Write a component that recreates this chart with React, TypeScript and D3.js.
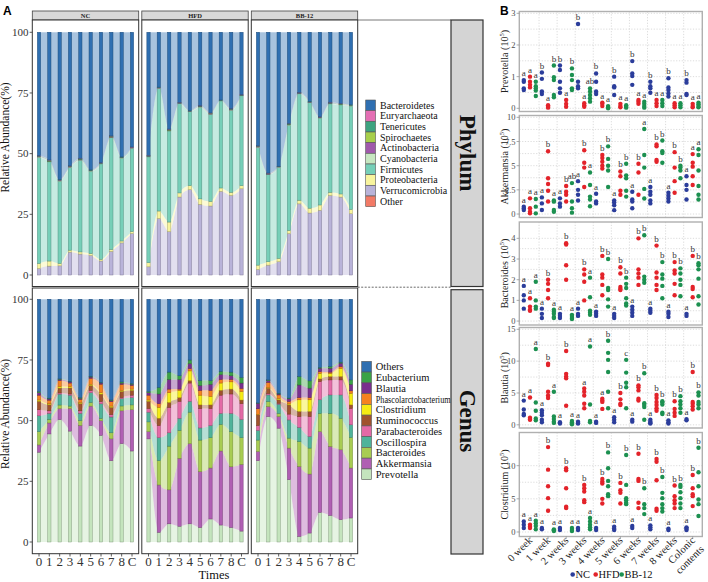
import React from 'react';
import * as d3 from 'd3';

// ---------------- Panel A data ----------------
const times = ['0', '1', '2', '3', '4', '5', '6', '7', '8', 'C'];
const facets = ['NC', 'HFD', 'BB-12'];

const phylumNames = ['Bacteroidetes', 'Euryarchaeota', 'Tenericutes', 'Spirochaetes', 'Actinobacteria', 'Cyanobacteria', 'Firmicutes', 'Proteobacteria', 'Verrucomicrobia', 'Other'];
const phylumColors = ['#2f6fb1', '#e46fb4', '#3ea380', '#a7cf4b', '#a05aab', '#c7e7c1', '#76cfb8', '#f8f49e', '#b9b3d9', '#f27a66'];

const phylumNC = [
  [51.2, 53.0, 61.1, 55.4, 52.3, 57.0, 54.0, 43.0, 51.6, 47.5],
  [0.1, 0.1, 0.0, 0.1, 0.1, 0.0, 0.1, 0.1, 0.0, 0.1],
  [0.3, 0.4, 0.2, 0.3, 0.4, 0.3, 0.2, 0.3, 0.3, 0.2],
  [0.0, 0.1, 0.0, 0.0, 0.1, 0.0, 0.0, 0.1, 0.0, 0.0],
  [0.1, 0.1, 0.2, 0.1, 0.1, 0.1, 0.1, 0.1, 0.1, 0.1],
  [0.2, 0.1, 0.3, 0.2, 0.1, 0.2, 0.1, 0.2, 0.2, 0.1],
  [44.0, 41.2, 34.1, 34.3, 38.1, 34.1, 39.5, 46.4, 34.3, 34.5],
  [2.1, 2.1, 1.0, 0.8, 0.9, 0.8, 0.7, 0.8, 0.8, 0.8],
  [2.7, 3.7, 3.8, 9.5, 8.7, 8.1, 5.8, 9.8, 13.3, 17.2],
  [0, 0, 0, 0, 0, 0, 0, 0, 0, 0],
];
const phylumHFD = [
  [51.0, 22.7, 40.2, 29.0, 32.4, 30.4, 33.4, 28.0, 31.7, 25.8],
  [0.1, 0.0, 0.1, 0.1, 0.0, 0.1, 0.1, 0.0, 0.1, 0.1],
  [0.3, 0.2, 0.3, 0.2, 0.2, 0.3, 0.2, 0.2, 0.3, 0.2],
  [0.0, 0.0, 0.1, 0.0, 0.0, 0.0, 0.1, 0.0, 0.0, 0.0],
  [0.1, 0.2, 0.1, 0.1, 0.1, 0.1, 0.1, 0.1, 0.1, 0.1],
  [0.2, 0.1, 0.2, 0.1, 0.1, 0.2, 0.1, 0.1, 0.2, 0.1],
  [43.9, 50.8, 37.8, 37.0, 30.6, 38.0, 36.1, 36.0, 34.0, 37.2],
  [1.7, 3.1, 4.0, 1.7, 1.7, 2.3, 1.9, 1.4, 1.3, 1.3],
  [3.4, 23.4, 18.0, 32.3, 35.3, 29.3, 28.6, 34.6, 33.0, 35.7],
  [0, 0, 0, 0, 0, 0, 0, 0, 0, 0],
];
const phylumBB = [
  [47.1, 58.4, 55.4, 37.8, 24.9, 28.6, 35.0, 29.0, 29.5, 30.0],
  [0.1, 0.1, 0.0, 0.1, 0.1, 0.0, 0.1, 0.1, 0.1, 0.0],
  [0.3, 0.3, 0.2, 0.3, 0.2, 0.3, 0.2, 0.3, 0.2, 0.3],
  [0.0, 0.0, 0.0, 0.1, 0.0, 0.0, 0.0, 0.0, 0.1, 0.0],
  [0.1, 0.1, 0.1, 0.1, 0.2, 0.1, 0.1, 0.1, 0.1, 0.1],
  [0.2, 0.2, 0.1, 0.2, 0.1, 0.2, 0.1, 0.2, 0.1, 0.2],
  [48.8, 36.1, 37.7, 43.7, 44.1, 43.7, 36.0, 36.7, 36.9, 42.8],
  [1.8, 1.4, 1.4, 1.3, 1.5, 2.0, 2.2, 1.3, 1.3, 1.8],
  [2.3, 4.1, 5.5, 17.2, 29.5, 25.7, 26.8, 33.0, 32.3, 25.4],
  [0, 0, 0, 0, 0, 0, 0, 0, 0, 0],
];

const genusNames = ['Others', 'Eubacterium', 'Blautia', 'Phascolarctobacterium', 'Clostridium', 'Ruminococcus', 'Parabacteroides', 'Oscillospira', 'Bacteroides', 'Akkermansia', 'Prevotella'];
const genusColors = ['#2f6fb1', '#3aa346', '#7a2f8e', '#f58220', '#f6eb14', '#a0522d', '#e36aa6', '#4fb39a', '#a8cc52', '#b05fb3', '#c4e4bd'];

const genusNC = [
  [38.0, 40.7, 32.8, 33.8, 40.5, 31.7, 34.3, 41.5, 34.0, 34.7],
  [0.5, 0.3, 0.2, 0.2, 0.3, 0.3, 0.2, 0.3, 0.5, 0.3],
  [1.0, 0.5, 0.5, 0.5, 0.4, 0.5, 0.5, 0.4, 0.5, 0.5],
  [2.0, 1.5, 2.5, 1.5, 1.3, 2.5, 3.5, 1.8, 2.5, 1.5],
  [0.5, 0.4, 0.6, 0.5, 0.4, 0.5, 0.6, 0.5, 0.4, 0.5],
  [3.5, 2.5, 2.0, 2.5, 3.0, 2.0, 3.0, 3.0, 2.5, 2.0],
  [2.5, 1.0, 0.5, 0.5, 1.0, 1.0, 1.0, 1.0, 0.5, 1.0],
  [6.5, 2.5, 4.5, 4.5, 3.0, 4.0, 6.0, 6.5, 3.0, 3.0],
  [5.5, 1.5, 1.5, 1.0, 2.0, 1.5, 1.0, 2.5, 2.0, 2.0],
  [3.0, 4.5, 4.5, 9.3, 8.5, 8.0, 6.0, 9.0, 13.5, 17.0],
  [37.0, 44.5, 50.5, 45.7, 39.5, 48.0, 44.0, 33.5, 40.5, 37.5],
];
const genusHFD = [
  [38.0, 36.3, 30.0, 31.5, 25.0, 33.5, 33.5, 29.7, 30.0, 32.2],
  [0.5, 2.7, 3.0, 1.5, 1.5, 2.0, 1.5, 1.3, 1.5, 2.3],
  [1.0, 4.0, 4.0, 4.0, 2.0, 2.0, 2.5, 2.0, 1.5, 2.2],
  [2.0, 1.5, 1.5, 0.5, 1.0, 2.0, 2.5, 1.5, 1.0, 1.3],
  [0.5, 4.5, 4.0, 3.0, 4.0, 4.0, 3.5, 3.0, 3.0, 3.5],
  [3.0, 3.0, 2.0, 1.5, 1.0, 1.5, 1.5, 2.0, 2.0, 1.5],
  [1.5, 5.0, 10.5, 7.0, 7.5, 8.0, 7.0, 7.5, 8.0, 6.5],
  [4.0, 9.5, 5.5, 5.0, 4.5, 5.0, 5.0, 4.5, 7.5, 7.5],
  [4.0, 10.0, 18.0, 11.5, 13.0, 13.0, 12.5, 11.0, 14.5, 11.0],
  [3.0, 19.5, 14.0, 28.0, 33.0, 23.0, 21.0, 30.5, 25.0, 27.5],
  [42.5, 4.0, 7.5, 6.5, 7.5, 6.0, 9.5, 7.0, 6.0, 4.5],
];
const genusBB = [
  [42.7, 33.2, 38.7, 40.7, 31.8, 33.6, 28.1, 27.7, 25.9, 33.2],
  [0.1, 0.3, 0.3, 0.3, 3.5, 3.0, 0.3, 0.7, 0.4, 1.8],
  [2.3, 0.7, 0.4, 1.1, 5.2, 3.9, 1.4, 1.6, 1.4, 2.7],
  [2.3, 2.2, 1.4, 1.0, 0.9, 0.9, 0.7, 0.5, 0.7, 1.0],
  [0.2, 0.2, 0.6, 0.4, 4.8, 4.8, 2.3, 1.3, 3.4, 4.8],
  [4.4, 2.2, 1.4, 3.8, 2.1, 2.1, 1.1, 1.4, 1.4, 1.4],
  [2.0, 0.6, 0.4, 2.4, 4.5, 8.2, 7.5, 6.2, 6.2, 6.8],
  [4.0, 2.7, 3.8, 7.5, 5.8, 4.8, 5.6, 7.6, 9.6, 5.2],
  [4.7, 2.1, 1.3, 4.1, 10.3, 10.7, 7.5, 13.6, 13.0, 12.6],
  [3.8, 4.1, 4.8, 13.0, 28.8, 24.3, 33.3, 28.4, 28.8, 20.6],
  [33.5, 51.7, 46.9, 25.7, 2.3, 3.7, 12.2, 11.0, 9.2, 9.9],
];

const abundanceTicks = [0, 25, 50, 75, 100];

// ---------------- Panel B data ----------------
const weekLabels = ['0 week', '1 week', '2 weeks', '3 weeks', '4 weeks', '5 weeks', '6 weeks', '7 weeks', '8 weeks', 'Colonic contents'];
const treatments = ['NC', 'HFD', 'BB-12'];
const treatColors = ['#2b3d9b', '#e3232a', '#1c9050'];

const prevNC = [[0.89, 0.84, 0.63, 0.58], [1.13, 0.93, 0.53, 0.45], [1.35, 1.21, 0.84, 0.63, 0.49], [2.66, 0.84, 0.7, 0.63], [1.1, 0.84, 0.53, 0.45], [1.0, 0.7, 0.66, 0.42], [1.49, 1.1, 1.02, 0.74], [0.84, 0.7, 0.63, 0.49], [0.95, 0.66, 0.58, 0.47, 0.37], [0.89, 0.81, 0.45, 0.42]];
const prevHFD = [[1.0, 0.84, 0.74, 0.66], [0.1, 0.05, 0.02], [0.26, 0.14, 0.05], [0.16, 0.1, 0.05], [0.18, 0.14, 0.07], [0.14, 0.07, 0.03], [0.26, 0.21, 0.14], [0.26, 0.16, 0.07], [0.16, 0.1, 0.03], [0.14, 0.07, 0.03]];
const prevBB = [[0.84, 0.7, 0.63, 0.56, 0.39], [1.35, 0.98, 0.89, 0.42, 0.35], [1.26, 1.05, 0.89, 0.63, 0.58], [0.63, 0.53, 0.42, 0.32, 0.21], [0.07, 0.03, 0.0], [0.1, 0.05, 0.02], [0.21, 0.14, 0.07, 0.02], [0.26, 0.16, 0.07], [0.16, 0.1, 0.03], [0.18, 0.13, 0.07, 0.03]];
const prevLetters = [
  ['a', 'b', 'b', 'b', 'b', 'b', 'b', 'b', 'b', 'b'],
  ['a', 'a', 'a', 'a', 'a', 'a', 'a', 'a', 'a', 'a'],
  ['a', 'b', 'b', 'ab', 'a', 'a', 'a', 'a', 'a', 'a'],
];
const prevTicks = [0, 1, 2, 3];

const akkNC = [[0.76, 0.59, 0.41], [1.72, 1.1, 0.41], [1.62, 1.1, 0.76], [3.4, 2.5, 2.0, 1.4], [2.1, 1.3, 1.1], [1.4, 1.2, 0.9, 0.4], [2.3, 1.5, 1.3, 0.6], [2.8, 2.3, 2.0, 1.4, 1.1], [2.2, 1.9, 1.6, 1.3], [3.9, 3.0, 2.5, 1.5]];
const akkHFD = [[1.62, 0.59, 0.24, 0.07], [6.5, 3.7, 3.1, 2.4, 1.3], [2.9, 2.3, 2.0, 1.3], [6.6, 5.3, 4.8, 2.8], [6.1, 5.8, 5.4, 5.0, 4.7], [4.4, 3.9, 2.4, 2.0], [5.2, 4.3, 2.0], [7.2, 7.0, 5.6, 5.4], [6.4, 4.8, 3.4, 2.2], [6.2, 5.3, 4.9, 3.9, 3.0]];
const akkBB = [[1.55, 0.76, 0.07], [1.4, 1.28, 0.41, 0.24], [3.2, 1.3, 0.6, 0.14], [4.3, 3.0, 1.8, 1.5, 0.8], [7.0, 5.7, 5.0, 4.5, 2.8], [5.2, 4.0, 3.7, 2.4, 1.8], [8.8, 6.1, 4.8, 2.6, 1.6], [7.6, 6.5, 6.3, 5.3], [5.0, 4.8, 4.5, 3.7], [6.7, 6.1, 4.5, 2.9, 2.0, 1.5]];
const akkLetters = [
  ['a', 'a', 'a', 'a', 'a', 'a', 'a', 'a', 'a', 'a'],
  ['a', 'b', 'b', 'b', 'b', 'b', 'b', 'b', 'b', 'a'],
  ['a', 'a', 'ab', 'a', 'b', 'b', 'a', 'b', 'b', 'a'],
];
const akkTicks = [0, 2.5, 5, 7.5, 10];

const bacNC = [[1.7, 1.25, 1.0, 0.6], [0.6, 0.35, 0.15], [0.35, 0.25, 0.15], [0.6, 0.35, 0.25], [0.45, 0.35, 0.25], [0.35, 0.25, 0.15], [0.7, 0.55, 0.4, 0.25], [0.6, 0.5, 0.4], [0.45, 0.35, 0.2], [0.35, 0.25]];
const bacHFD = [[1.1, 0.7, 0.55, 0.5], [2.0, 1.8, 1.5, 1.1], [3.76, 3.7, 2.7, 2.0], [2.5, 2.25, 1.9, 1.0], [3.15, 2.25, 2.1, 1.75, 1.25], [2.6, 2.3, 1.65, 1.55, 1.5], [4.0, 2.5, 2.3, 2.1, 1.75], [3.65, 2.35, 2.1, 1.75, 1.5], [2.85, 2.45, 2.3, 1.8, 1.25], [3.15, 1.65, 1.55, 1.15]];
const bacBB = [[1.9, 1.0, 0.7, 0.6], [0.55, 0.45, 0.35, 0.2, 0.15], [0.3, 0.25, 0.15, 0.1], [2.1, 1.15, 0.5, 0.4, 0.3], [3.0, 1.6, 1.5, 1.05, 0.7], [2.1, 1.8, 1.6, 1.1, 0.85, 0.75], [4.15, 2.15, 2.0, 1.85], [2.85, 2.25, 2.05, 1.7, 1.1], [2.55, 2.3, 2.0, 1.75, 1.2], [2.8, 2.7, 2.5, 2.05, 1.2, 0.8]];
const bacLetters = [
  ['a', 'a', 'a', 'a', 'a', 'a', 'a', 'a', 'a', 'a'],
  ['a', 'b', 'b', 'b', 'b', 'b', 'b', 'b', 'b', 'b'],
  ['a', 'a', 'a', 'a', 'b', 'b', 'b', 'b', 'b', 'b'],
];
const bacTicks = [0, 1, 2, 3, 4];

const blaNC = [[3.8, 2.4, 1.7, 1.5], [2.3, 1.9, 1.5, 0.8, 0.4], [0.4, 0.2], [0.5, 0.3, 0.2], [0.5, 0.3], [1.2, 0.8, 0.4], [0.8, 0.5], [0.8, 0.5, 0.3, 0.2], [0.7, 0.4, 0.2], [0.9, 0.7]];
const blaHFD = [[4.3, 1.1, 0.9, 0.8], [9.6, 9.4, 5.2, 4.6, 4.2], [11.6, 8.0, 7.6, 7.3, 3.0], [5.7, 5.2, 4.6, 3.3, 2.6], [4.1, 3.8, 3.6, 2.5], [5.0, 4.0, 3.3, 3.1], [6.2, 5.9, 5.4, 4.1, 3.8], [4.7, 4.2, 3.6, 3.1, 2.6, 2.2], [3.7, 2.5, 1.9, 1.4], [8.3, 3.6, 3.3, 2.9, 2.4]];
const blaBB = [[11.9, 3.5, 2.2, 1.0, 0.7], [5.2, 1.3, 0.9, 0.5, 0.3], [0.6, 0.4, 0.2, 0.1], [12.3, 3.2, 0.6, 0.4], [13.2, 11.3, 10.2, 8.3, 5.2, 2.6], [10.2, 8.2, 6.6, 5.9, 2.6], [8.1, 3.4, 3.1, 2.8, 0.8], [3.7, 3.5, 3.2, 1.9, 1.7], [4.5, 3.7, 3.2, 2.6, 1.9], [5.1, 4.6, 3.6, 3.2, 2.6]];
const blaLetters = [
  ['a', 'a', 'a', 'a', 'a', 'a', 'a', 'a', 'a', 'a'],
  ['a', 'b', 'b', 'a', 'a', 'b', 'b', 'b', 'b', 'b'],
  ['a', 'a', 'a', 'a', 'b', 'c', 'b', 'b', 'b', 'b'],
];
const blaTicks = [0, 5, 10, 15];

const cloNC = [[1.6, 1.1, 0.6], [0.6, 0.4], [0.6, 0.3], [0.6, 0.3], [0.6, 0.3], [0.8, 0.5, 0.3], [0.9, 0.6], [1.0, 0.7, 0.4], [0.5, 0.3], [0.7, 0.5, 0.3]];
const cloHFD = [[1.1, 0.8, 0.6], [12.8, 9.4, 6.9, 5.1, 3.2], [9.6, 9.3, 6.6, 3.8, 3.6], [7.1, 6.6, 6.1, 4.8, 4.5], [8.0, 7.6, 7.3, 5.0, 4.3], [7.4, 6.3, 5.9, 4.3], [11.8, 8.0, 7.7, 4.4, 3.6], [11.0, 10.6, 7.8, 3.5, 3.2], [7.0, 5.4, 4.8, 4.3, 3.6], [8.6, 6.6, 5.7, 5.4, 3.9]];
const cloBB = [[1.7, 1.3, 0.9, 0.4], [0.4, 0.25, 0.15], [0.6, 0.3, 0.15], [2.1, 1.6, 1.1, 0.7, 0.4], [12.0, 9.6, 7.7, 6.9, 5.7, 5.4], [11.6, 7.1, 5.1, 4.8, 4.4, 4.2], [6.6, 4.2, 3.6, 2.7], [8.3, 5.9, 5.1, 4.2, 3.6, 3.1], [7.1, 6.8, 6.0, 5.1, 4.3, 3.6], [12.7, 9.0, 6.9, 4.9, 4.2, 2.4]];
const cloLetters = [
  ['a', 'a', 'a', 'a', 'a', 'a', 'a', 'a', 'a', 'a'],
  ['a', 'b', 'b', 'b', 'b', 'b', 'b', 'b', 'b', 'b'],
  ['a', 'a', 'a', 'a', 'b', 'b', 'b', 'b', 'b', 'b'],
];
const cloTicks = [0, 5, 10];

// ---------------- layout ----------------
const SERIF = '"Liberation Serif", "Times New Roman", serif';
const SANS = '"Liberation Sans", Arial, sans-serif';
const facetX: [number, number][] = [[32.3, 138.7], [141.8, 248.2], [251.3, 357.7]];
const rowsA = [
  { top: 20, bottom: 286.5, yZero: 275, yHundred: 32.3, titleY: 137.5 },
  { top: 288, bottom: 553.7, yZero: 542, yHundred: 299.3, titleY: 414 },
];

function StackedPanel({ matrix, names, colors, x0, x1, yZero, yHundred }: any) {
  const xs = d3.scalePoint<string>().domain(times).range([x0 + 6.7, x1 - 6.7]);
  const ys = d3.scaleLinear().domain([0, 1]).range([yZero, yHundred]);
  const keys = names.slice().reverse();
  const rows = times.map((t, i) => {
    const o: any = { t };
    names.forEach((n: string, k: number) => { o[n] = matrix[k][i]; });
    return o;
  });
  const series = d3.stack<any>().keys(keys).offset(d3.stackOffsetExpand)(rows);
  const area = d3.area<any>()
    .x((d) => xs(d.data.t) as number)
    .y0((d) => ys(d[0]))
    .y1((d) => ys(d[1]))
    .curve(d3.curveMonotoneX);
  const bw = 3.3;
  return (
    <g>
      {series.map((s) => {
        const c = colors[names.indexOf(s.key)];
        return <path key={'a' + s.key} d={area(s) || ''} fill={c} fillOpacity={0.42} stroke="none" />;
      })}
      {series.map((s) => {
        const c = colors[names.indexOf(s.key)];
        const stroke = (d3.color(c) as any).darker(1).formatHex();
        return s.map((d, i) => {
          const h = ys(d[0]) - ys(d[1]);
          if (h <= 0.05) return null;
          return (
            <rect key={s.key + i} x={(xs(d.data.t) as number) - bw / 2} y={ys(d[1])} width={bw} height={h}
              fill={c} stroke={stroke} strokeWidth={0.5} />
          );
        });
      })}
    </g>
  );
}

function PanelA() {
  const yAxis = (row: any, ri: number) => {
    const ys = d3.scaleLinear().domain([0, 100]).range([row.yZero, row.yHundred]);
    return (
      <g key={'ya' + ri}>
        {abundanceTicks.map((t) => (
          <g key={t}>
            <line x1={29.6} x2={32.3} y1={ys(t)} y2={ys(t)} stroke="#333" strokeWidth={0.8} />
            <text x={28.5} y={ys(t) + 3.8} textAnchor="end" fontSize={11} fontFamily={SERIF} fill="#333">{t}</text>
          </g>
        ))}
        <text transform={`translate(9,${row.titleY}) rotate(-90)`} textAnchor="middle" fontSize={11.5} fontFamily={SERIF} fill="#111">Relative Abundance(%)</text>
      </g>
    );
  };
  const matsP = [phylumNC, phylumHFD, phylumBB];
  const matsG = [genusNC, genusHFD, genusBB];
  return (
    <g>
      <text x={3} y={15} fontFamily={SANS} fontWeight="bold" fontSize={12} fill="#000">A</text>
      {facets.map((f, fi) => {
        const [x0, x1] = facetX[fi];
        return (
          <g key={f}>
            <rect x={x0} y={11} width={x1 - x0} height={9} fill="#d9d9d9" stroke="#444" strokeWidth={0.8} />
            <text x={(x0 + x1) / 2} y={18} textAnchor="middle" fontSize={6.5} fontWeight="bold" fontFamily={SERIF} fill="#222">{f}</text>
            {rowsA.map((row, ri) => (
              <g key={ri}>
                <rect x={x0} y={row.top} width={x1 - x0} height={row.bottom - row.top} fill="#fff" stroke="#333" strokeWidth={1} />
                <StackedPanel matrix={ri === 0 ? matsP[fi] : matsG[fi]} names={ri === 0 ? phylumNames : genusNames}
                  colors={ri === 0 ? phylumColors : genusColors} x0={x0} x1={x1} yZero={row.yZero} yHundred={row.yHundred} />
              </g>
            ))}
            {(() => {
              const xs = d3.scalePoint<string>().domain(times).range([x0 + 6.7, x1 - 6.7]);
              return times.map((t) => (
                <g key={t}>
                  <line x1={xs(t)} x2={xs(t)} y1={553.7} y2={556.5} stroke="#333" strokeWidth={0.8} />
                  <text x={xs(t)} y={566} textAnchor="middle" fontSize={13} fontFamily={SERIF} fill="#333">{t}</text>
                </g>
              ));
            })()}
          </g>
        );
      })}
      {rowsA.map((row, ri) => yAxis(row, ri))}
      <text x={214} y={579} textAnchor="middle" fontSize={12.5} fontFamily={SERIF} fill="#111">Times</text>

      {/* connector lines */}
      <line x1={357.7} x2={451} y1={20} y2={20} stroke="#555" strokeWidth={0.8} />
      <line x1={357.7} x2={451} y1={287.2} y2={287.2} stroke="#444" strokeWidth={0.8} strokeDasharray="2,1.5" />

      {/* phylum legend */}
      {phylumNames.map((n, i) => {
        const cy = 105.3 + 10.67 * i;
        return (
          <g key={n}>
            <rect x={365.7} y={cy - 5.3} width={9.8} height={10.6} fill={phylumColors[i]} stroke="#555" strokeWidth={0.6} />
            <text x={380} y={cy + 3.5} fontSize={10} fontFamily={SERIF} fill="#111">{n}</text>
          </g>
        );
      })}
      {/* genus legend */}
      {genusNames.map((n, i) => {
        const cy = 366.7 + 10.76 * i;
        const long = n === 'Phascolarctobacterium';
        return (
          <g key={n}>
            <rect x={361.7} y={cy - 5.35} width={9.8} height={10.7} fill={genusColors[i]} stroke="#555" strokeWidth={0.6} />
            <text x={375.7} y={cy + 3.6} fontSize={10.5} fontFamily={SERIF} fill="#111"
              {...(long ? { textLength: 75, lengthAdjust: 'spacingAndGlyphs' } : {})}>{n}</text>
          </g>
        );
      })}

      {/* strips */}
      <rect x={451} y={20} width={32} height={266.5} fill="#d4d4d4" stroke="#333" strokeWidth={1.2} />
      <text transform={`translate(467,153) rotate(90)`} textAnchor="middle" dominantBaseline="central" fontSize={23} fontWeight="bold" fontFamily={SERIF} fill="#111">Phylum</text>
      <rect x={451} y={289.7} width={32} height={264.3} fill="#d4d4d4" stroke="#333" strokeWidth={1.2} />
      <text transform={`translate(467,421) rotate(90)`} textAnchor="middle" dominantBaseline="central" fontSize={23} fontWeight="bold" fontFamily={SERIF} fill="#111">Genus</text>
    </g>
  );
}

const qpcrPanels = [
  { title: 'Prevotella', top: 11.5, bottom: 111.5, domain: [-0.101, 3.057], ticks: prevTicks, data: [prevNC, prevHFD, prevBB], letters: prevLetters },
  { title: 'Akkermansia', top: 115.5, bottom: 217.5, domain: [-0.36, 10.19], ticks: akkTicks, data: [akkNC, akkHFD, akkBB], letters: akkLetters },
  { title: 'Bacteroides', top: 222, bottom: 325, domain: [-0.19, 4.79], ticks: bacTicks, data: [bacNC, bacHFD, bacBB], letters: bacLetters },
  { title: 'Blautia', top: 327.5, bottom: 428, domain: [-0.5, 15.28], ticks: blaTicks, data: [blaNC, blaHFD, blaBB], letters: blaLetters },
  { title: 'Clostridium', top: 432.5, bottom: 536.5, domain: [-0.68, 15.0], ticks: cloTicks, data: [cloNC, cloHFD, cloBB], letters: cloLetters },
];

const PX0 = 519.3;
const PX1 = 702.3;

function QPanel({ cfg }: any) {
  const x = d3.scalePoint<string>().domain(weekLabels).range([530, 692.7]);
  const y = d3.scaleLinear().domain(cfg.domain).range([cfg.bottom, cfg.top]);
  const step = x.step();
  const offsets = [-6.2, 0, 5.8];
  const ticks: number[] = cfg.ticks;
  const minors: number[] = [];
  for (let i = 0; i < ticks.length - 1; i++) minors.push((ticks[i] + ticks[i + 1]) / 2);
  const mid = (cfg.top + cfg.bottom) / 2;
  return (
    <g>
      <rect x={PX0} y={cfg.top} width={PX1 - PX0} height={cfg.bottom - cfg.top} fill="#fff" />
      {[...ticks, ...minors].map((t, i) => (
        <line key={'h' + i} x1={PX0} x2={PX1} y1={y(t)} y2={y(t)} stroke="#c4c4c4" strokeWidth={0.6} strokeDasharray="1.2,1.6" />
      ))}
      {weekLabels.slice(0, -1).map((w) => (
        <line key={'v' + w} x1={(x(w) as number) + step / 2} x2={(x(w) as number) + step / 2} y1={cfg.top} y2={cfg.bottom}
          stroke="#c4c4c4" strokeWidth={0.6} strokeDasharray="1.2,1.6" />
      ))}
      {treatments.map((t, k) => (
        <g key={t}>
          {weekLabels.map((w, gi) => {
            const vals: number[] = cfg.data[k][gi];
            const cx = (x(w) as number) + offsets[k];
            return (
              <g key={w}>
                {vals.map((v, j) => (
                  <circle key={j} cx={cx} cy={y(v)} r={2.2} fill={treatColors[k]} />
                ))}
                <text x={cx} y={y(d3.max(vals) as number) - 4} textAnchor="middle" fontSize={9} fontFamily={SERIF} fill="#333">{cfg.letters[k][gi]}</text>
              </g>
            );
          })}
        </g>
      ))}
      <rect x={PX0} y={cfg.top} width={PX1 - PX0} height={cfg.bottom - cfg.top} fill="none" stroke="#b0b0b0" strokeWidth={1.4} />
      {ticks.map((t) => (
        <g key={'t' + t}>
          <line x1={516.6} x2={PX0} y1={y(t)} y2={y(t)} stroke="#888" strokeWidth={0.7} />
          <text x={515.5} y={y(t) + 3} textAnchor="end" fontSize={8.5} fontFamily={SERIF} fill="#4d4d4d">{t}</text>
        </g>
      ))}
      <text transform={`translate(507.5,${mid}) rotate(-90)`} textAnchor="middle" fontSize={10} fontFamily={SERIF} fill="#222">
        {cfg.title + ' (10'}<tspan dy={-3.5} fontSize={6.5}>5</tspan><tspan dy={3.5}>)</tspan>
      </text>
    </g>
  );
}

function PanelB() {
  const x = d3.scalePoint<string>().domain(weekLabels).range([530, 692.7]);
  return (
    <g>
      <text x={500} y={15} fontFamily={SANS} fontWeight="bold" fontSize={12} fill="#000">B</text>
      {qpcrPanels.map((cfg) => <QPanel key={cfg.title} cfg={cfg} />)}
      {weekLabels.map((w) => {
        const tx = (x(w) as number) + 3;
        const lines = w === 'Colonic contents' ? ['Colonic', 'contents'] : [w];
        return (
          <g key={'xl' + w}>
            <line x1={x(w)} x2={x(w)} y1={536.5} y2={539} stroke="#888" strokeWidth={0.7} />
            <text transform={`translate(${tx},541) rotate(-45)`} textAnchor="end" fontSize={10.5} fontFamily={SERIF} fill="#222">
              {lines.map((l, i) => (
                <tspan key={l} x={0} dy={i === 0 ? 0 : 12.5}>{l}</tspan>
              ))}
            </text>
          </g>
        );
      })}
      {treatments.map((t, k) => {
        const lx = [572.7, 595.7, 621.7][k];
        return (
          <g key={'lg' + t}>
            <circle cx={lx} cy={574.5} r={2.3} fill={treatColors[k]} />
            <text x={lx + 2.8} y={578} fontSize={10.5} fontFamily={SERIF} fill="#111">{t}</text>
          </g>
        );
      })}
    </g>
  );
}

export default function App() {
  return (
    <svg width={708} height={582} viewBox="0 0 708 582" style={{ position: 'absolute', left: 0, top: 0, background: '#fff' }}>
      <rect x={0} y={0} width={708} height={582} fill="#fff" />
      <PanelA />
      <PanelB />
    </svg>
  );
}
